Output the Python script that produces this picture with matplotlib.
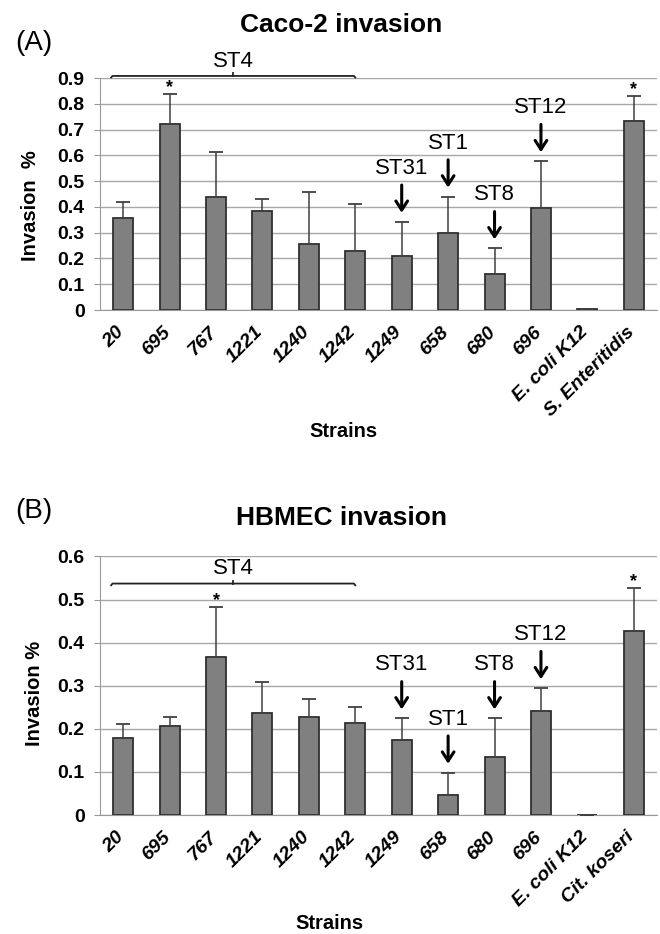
import numpy as np
import matplotlib.pyplot as plt
from matplotlib.transforms import ScaledTranslation

plt.rcParams['font.family'] = ['Liberation Sans', 'DejaVu Sans']

# data
strains = ['20', '695', '767', '1221', '1240', '1242', '1249', '658', '680', '696', 'E. coli K12']
labels_a = strains + ['S. Enteritidis']
labels_b = strains + ['Cit. koseri']

caco2_mean = [0.357, 0.72, 0.44, 0.384, 0.255, 0.23, 0.21, 0.30, 0.138, 0.394, 0.003, 0.734]
caco2_err = [0.063, 0.117, 0.174, 0.046, 0.204, 0.18, 0.132, 0.14, 0.101, 0.183, 0.0, 0.095]
hbmec_mean = [0.178, 0.207, 0.367, 0.236, 0.227, 0.214, 0.174, 0.046, 0.135, 0.242, 0.001, 0.428]
hbmec_err = [0.033, 0.02, 0.116, 0.073, 0.043, 0.036, 0.05, 0.052, 0.089, 0.052, 0.0, 0.098]

# sequence types
st_labels = ['ST31', 'ST1', 'ST8', 'ST12']
st_bars = [6, 7, 8, 9]
st4_bars = [0, 5]
signif_a = [1, 11]
signif_b = [2, 11]

fig = plt.figure(figsize=(6.6, 9.34), dpi=100)
W, H = 660, 934


def px_axes(left, top, right, bottom):
    return fig.add_axes([left / W, 1 - bottom / H, (right - left) / W, (bottom - top) / H])


def draw_panel(ax, labels, mean, err, ymax, signif, st4_y, st4_text_y, bracket_dy):
    x = np.arange(len(labels))
    mean = np.array(mean)
    err = np.array(err)
    ax.bar(x, mean, width=0.43, color='#808080', edgecolor='#303030', linewidth=1.3, zorder=3)
    ax.errorbar(x, mean, yerr=[np.zeros_like(err), err], fmt='none', ecolor='#404040',
                elinewidth=1.1, capsize=5, capthick=1.3, zorder=4)
    ax.set_xlim(-0.5, len(labels) - 0.5)
    ax.set_ylim(0, ymax)
    ticks = np.round(np.arange(0, ymax + 0.001, 0.1), 1)
    ax.set_yticks(ticks, ['0'] + [f'{t:.1f}' for t in ticks[1:]])
    ax.yaxis.grid(True, color='#a8a8a8', lw=1)
    ax.set_axisbelow(True)
    for s in ['top', 'right']:
        ax.spines[s].set_visible(False)
    for s in ['left', 'bottom']:
        ax.spines[s].set_color('#9a9a9a')
    ax.tick_params(axis='y', length=4, color='#9a9a9a', pad=7, labelsize=14)
    for lbl in ax.get_yticklabels():
        lbl.set_fontweight('bold')
    ax.set_xticks(x, labels, rotation=45, ha='right', va='center', rotation_mode='anchor',
                  fontsize=14, fontweight='bold', fontstyle='italic')
    ax.tick_params(axis='x', length=0, pad=14)
    for lbl in ax.get_xticklabels():
        lbl.set_transform(lbl.get_transform() + ScaledTranslation(-0.02, 0, fig.dpi_scale_trans))

    tops = mean + err
    # significance stars
    for i in signif:
        ax.annotate('*', (x[i], tops[i]), xytext=(0, 1.5), textcoords='offset points',
                    ha='center', va='baseline', fontsize=13, fontweight='bold')

    # ST4 bracket
    x0, x1 = st4_bars[0] - 0.26, st4_bars[1]
    xc = (x0 + x1) / 2
    ax.plot([x0, x0 + 0.03, x1 - 0.03, x1], [st4_y - bracket_dy, st4_y, st4_y, st4_y - bracket_dy],
            color='#222222', lw=1.3, clip_on=False, zorder=5)
    ax.plot([xc, xc], [st4_y, st4_y + bracket_dy * 1.6], color='#222222', lw=1.3, clip_on=False)
    ax.text(xc, st4_text_y, 'ST4', ha='center', va='center', fontsize=16)

    # arrows to single-strain sequence types
    for lab, i in zip(st_labels, st_bars):
        ax.annotate('', xy=(x[i], tops[i]), xycoords='data',
                    xytext=(0, 26.5), textcoords='offset points',
                    arrowprops=dict(arrowstyle='->,head_length=0.65,head_width=0.42', color='black',
                                    lw=2.2, shrinkA=0, shrinkB=6.5))
        ax.annotate(lab, (x[i], tops[i]), xytext=(0, 38.5), textcoords='offset points',
                    ha='center', va='center', fontsize=16)


ax_a = px_axes(100, 78, 657, 310)
draw_panel(ax_a, labels_a, caco2_mean, caco2_err, 0.9, signif_a, 0.908, 0.964, 0.006)
ax_b = px_axes(100, 556.4, 657, 815)
draw_panel(ax_b, labels_b, hbmec_mean, hbmec_err, 0.6, signif_b, 0.537, 0.573, 0.004)

# titles and labels
fig.text(341 / W, 1 - 32 / H, 'Caco-2 invasion', ha='center', va='baseline', fontsize=19, fontweight='bold')
fig.text(341 / W, 1 - 525 / H, 'HBMEC invasion', ha='center', va='baseline', fontsize=19, fontweight='bold')
fig.text(34 / W, 1 - 50 / H, '(A)', ha='center', va='baseline', fontsize=20)
fig.text(34 / W, 1 - 518 / H, '(B)', ha='center', va='baseline', fontsize=20)
fig.text(30 / W, 1 - 206 / H, 'Invasion  %', rotation=90, ha='center', va='center', fontsize=14.5, fontweight='bold')
fig.text(34 / W, 1 - 693 / H, 'Invasion %', rotation=90, ha='center', va='center', fontsize=14.5, fontweight='bold')
fig.text(343 / W, 1 - 437 / H, 'Strains', ha='center', va='baseline', fontsize=14.5, fontweight='bold')
fig.text(329 / W, 1 - 929 / H, 'Strains', ha='center', va='baseline', fontsize=14.5, fontweight='bold')

fig.savefig('out.png', dpi=100)
